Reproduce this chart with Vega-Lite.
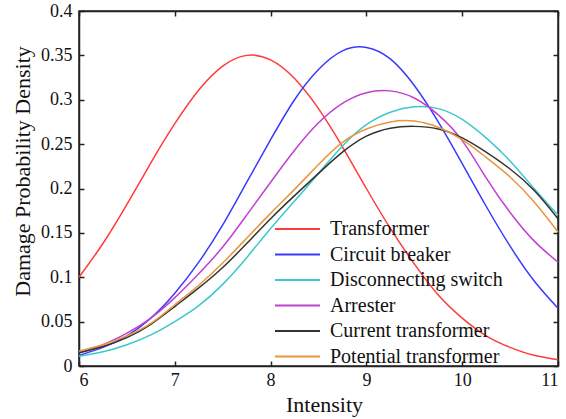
{
  "$schema": "https://vega.github.io/schema/vega-lite/v6.json",
  "width": 479,
  "height": 355,
  "autosize": {"type": "none"},
  "padding": {"left": 79, "top": 11, "right": 8, "bottom": 53},
  "config": {
    "font": "Liberation Serif",
    "view": {"stroke": "#222", "strokeWidth": 1.5},
    "axis": {
      "domainColor": "#222", "domainWidth": 1.5,
      "tickColor": "#222", "tickWidth": 1.5, "tickSize": -5,
      "labelColor": "#111", "labelFont": "Liberation Serif", "labelFontSize": 18,
      "titleFont": "Liberation Serif", "titleFontSize": 22, "titleFontWeight": "normal", "titleColor": "#111",
      "grid": false
    }
  },
  "data": {
    "values": [
      {"x": 6, "c": "Transformer", "d": 0.100}, {"x": 6.25, "c": "Transformer", "d": 0.138}, {"x": 6.5, "c": "Transformer", "d": 0.182}, {"x": 6.75, "c": "Transformer", "d": 0.229}, {"x": 7, "c": "Transformer", "d": 0.273}, {"x": 7.25, "c": "Transformer", "d": 0.311}, {"x": 7.5, "c": "Transformer", "d": 0.338}, {"x": 7.75, "c": "Transformer", "d": 0.350}, {"x": 8, "c": "Transformer", "d": 0.345}, {"x": 8.25, "c": "Transformer", "d": 0.324}, {"x": 8.5, "c": "Transformer", "d": 0.290}, {"x": 8.75, "c": "Transformer", "d": 0.247}, {"x": 9, "c": "Transformer", "d": 0.200}, {"x": 9.25, "c": "Transformer", "d": 0.155}, {"x": 9.5, "c": "Transformer", "d": 0.115}, {"x": 9.75, "c": "Transformer", "d": 0.080}, {"x": 10, "c": "Transformer", "d": 0.054}, {"x": 10.25, "c": "Transformer", "d": 0.034}, {"x": 10.5, "c": "Transformer", "d": 0.021}, {"x": 10.75, "c": "Transformer", "d": 0.012}, {"x": 11, "c": "Transformer", "d": 0.007},
      {"x": 6, "c": "Circuit breaker", "d": 0.012}, {"x": 6.25, "c": "Circuit breaker", "d": 0.021}, {"x": 6.5, "c": "Circuit breaker", "d": 0.034}, {"x": 6.75, "c": "Circuit breaker", "d": 0.054}, {"x": 7, "c": "Circuit breaker", "d": 0.082}, {"x": 7.25, "c": "Circuit breaker", "d": 0.117}, {"x": 7.5, "c": "Circuit breaker", "d": 0.159}, {"x": 7.75, "c": "Circuit breaker", "d": 0.207}, {"x": 8, "c": "Circuit breaker", "d": 0.255}, {"x": 8.25, "c": "Circuit breaker", "d": 0.300}, {"x": 8.5, "c": "Circuit breaker", "d": 0.334}, {"x": 8.75, "c": "Circuit breaker", "d": 0.355}, {"x": 9, "c": "Circuit breaker", "d": 0.359}, {"x": 9.25, "c": "Circuit breaker", "d": 0.346}, {"x": 9.5, "c": "Circuit breaker", "d": 0.316}, {"x": 9.75, "c": "Circuit breaker", "d": 0.275}, {"x": 10, "c": "Circuit breaker", "d": 0.228}, {"x": 10.25, "c": "Circuit breaker", "d": 0.180}, {"x": 10.5, "c": "Circuit breaker", "d": 0.135}, {"x": 10.75, "c": "Circuit breaker", "d": 0.096}, {"x": 11, "c": "Circuit breaker", "d": 0.065},
      {"x": 6, "c": "Disconnecting switch", "d": 0.011}, {"x": 6.25, "c": "Disconnecting switch", "d": 0.016}, {"x": 6.5, "c": "Disconnecting switch", "d": 0.024}, {"x": 6.75, "c": "Disconnecting switch", "d": 0.035}, {"x": 7, "c": "Disconnecting switch", "d": 0.050}, {"x": 7.25, "c": "Disconnecting switch", "d": 0.068}, {"x": 7.5, "c": "Disconnecting switch", "d": 0.092}, {"x": 7.75, "c": "Disconnecting switch", "d": 0.122}, {"x": 8, "c": "Disconnecting switch", "d": 0.155}, {"x": 8.25, "c": "Disconnecting switch", "d": 0.186}, {"x": 8.5, "c": "Disconnecting switch", "d": 0.217}, {"x": 8.75, "c": "Disconnecting switch", "d": 0.248}, {"x": 9, "c": "Disconnecting switch", "d": 0.272}, {"x": 9.25, "c": "Disconnecting switch", "d": 0.286}, {"x": 9.5, "c": "Disconnecting switch", "d": 0.292}, {"x": 9.75, "c": "Disconnecting switch", "d": 0.290}, {"x": 10, "c": "Disconnecting switch", "d": 0.278}, {"x": 10.25, "c": "Disconnecting switch", "d": 0.257}, {"x": 10.5, "c": "Disconnecting switch", "d": 0.231}, {"x": 10.75, "c": "Disconnecting switch", "d": 0.200}, {"x": 11, "c": "Disconnecting switch", "d": 0.170},
      {"x": 6, "c": "Arrester", "d": 0.015}, {"x": 6.25, "c": "Arrester", "d": 0.024}, {"x": 6.5, "c": "Arrester", "d": 0.037}, {"x": 6.75, "c": "Arrester", "d": 0.054}, {"x": 7, "c": "Arrester", "d": 0.077}, {"x": 7.25, "c": "Arrester", "d": 0.104}, {"x": 7.5, "c": "Arrester", "d": 0.134}, {"x": 7.75, "c": "Arrester", "d": 0.170}, {"x": 8, "c": "Arrester", "d": 0.207}, {"x": 8.25, "c": "Arrester", "d": 0.243}, {"x": 8.5, "c": "Arrester", "d": 0.274}, {"x": 8.75, "c": "Arrester", "d": 0.296}, {"x": 9, "c": "Arrester", "d": 0.308}, {"x": 9.25, "c": "Arrester", "d": 0.310}, {"x": 9.5, "c": "Arrester", "d": 0.302}, {"x": 9.75, "c": "Arrester", "d": 0.283}, {"x": 10, "c": "Arrester", "d": 0.254}, {"x": 10.25, "c": "Arrester", "d": 0.212}, {"x": 10.5, "c": "Arrester", "d": 0.173}, {"x": 10.75, "c": "Arrester", "d": 0.141}, {"x": 11, "c": "Arrester", "d": 0.117},
      {"x": 6, "c": "Current transformer", "d": 0.015}, {"x": 6.25, "c": "Current transformer", "d": 0.022}, {"x": 6.5, "c": "Current transformer", "d": 0.032}, {"x": 6.75, "c": "Current transformer", "d": 0.047}, {"x": 7, "c": "Current transformer", "d": 0.067}, {"x": 7.25, "c": "Current transformer", "d": 0.088}, {"x": 7.5, "c": "Current transformer", "d": 0.111}, {"x": 7.75, "c": "Current transformer", "d": 0.138}, {"x": 8, "c": "Current transformer", "d": 0.166}, {"x": 8.25, "c": "Current transformer", "d": 0.192}, {"x": 8.5, "c": "Current transformer", "d": 0.217}, {"x": 8.75, "c": "Current transformer", "d": 0.241}, {"x": 9, "c": "Current transformer", "d": 0.259}, {"x": 9.25, "c": "Current transformer", "d": 0.268}, {"x": 9.5, "c": "Current transformer", "d": 0.270}, {"x": 9.75, "c": "Current transformer", "d": 0.267}, {"x": 10, "c": "Current transformer", "d": 0.257}, {"x": 10.25, "c": "Current transformer", "d": 0.241}, {"x": 10.5, "c": "Current transformer", "d": 0.222}, {"x": 10.75, "c": "Current transformer", "d": 0.198}, {"x": 11, "c": "Current transformer", "d": 0.166},
      {"x": 6, "c": "Potential transformer", "d": 0.017}, {"x": 6.25, "c": "Potential transformer", "d": 0.024}, {"x": 6.5, "c": "Potential transformer", "d": 0.034}, {"x": 6.75, "c": "Potential transformer", "d": 0.048}, {"x": 7, "c": "Potential transformer", "d": 0.069}, {"x": 7.25, "c": "Potential transformer", "d": 0.091}, {"x": 7.5, "c": "Potential transformer", "d": 0.116}, {"x": 7.75, "c": "Potential transformer", "d": 0.144}, {"x": 8, "c": "Potential transformer", "d": 0.172}, {"x": 8.25, "c": "Potential transformer", "d": 0.199}, {"x": 8.5, "c": "Potential transformer", "d": 0.227}, {"x": 8.75, "c": "Potential transformer", "d": 0.252}, {"x": 9, "c": "Potential transformer", "d": 0.267}, {"x": 9.25, "c": "Potential transformer", "d": 0.275}, {"x": 9.5, "c": "Potential transformer", "d": 0.276}, {"x": 9.75, "c": "Potential transformer", "d": 0.269}, {"x": 10, "c": "Potential transformer", "d": 0.255}, {"x": 10.25, "c": "Potential transformer", "d": 0.235}, {"x": 10.5, "c": "Potential transformer", "d": 0.213}, {"x": 10.75, "c": "Potential transformer", "d": 0.185}, {"x": 11, "c": "Potential transformer", "d": 0.151}
    ]
  },
  "layer": [
    {
      "mark": {"type": "line", "interpolate": "natural", "strokeWidth": 1.5},
      "encoding": {
        "x": {
          "field": "x", "type": "quantitative",
          "scale": {"domain": [6, 11], "nice": false},
          "axis": {"values": [6, 7, 8, 9, 10, 11], "format": "d", "title": "Intensity", "labelPadding": 10, "titleX": 245, "titleY": 38, "titleBaseline": "middle", "titleAlign": "center", "titleAngle": 0}
        },
        "y": {
          "field": "d", "type": "quantitative",
          "scale": {"domain": [0, 0.4], "nice": false},
          "axis": {"values": [0, 0.05, 0.1, 0.15, 0.2, 0.25, 0.3, 0.35, 0.4], "format": "~g", "title": "Damage Probability Density", "labelPadding": 12, "titleX": -57, "titleY": 160, "titleAngle": -90, "titleAlign": "center", "titleBaseline": "middle"}
        },
        "color": {
          "field": "c", "type": "nominal",
          "scale": {
            "domain": ["Transformer", "Circuit breaker", "Disconnecting switch", "Arrester", "Current transformer", "Potential transformer"],
            "range": ["#ff3b3b", "#3a3aff", "#3cc8c8", "#c040d0", "#333333", "#e8963c"]
          },
          "legend": {
            "orient": "none", "legendX": 208.5, "legendY": 208, "title": null,
            "symbolType": "M-4.5,0H4.5", "symbolSize": 100, "symbolStrokeWidth": 2,
            "labelFont": "Liberation Serif", "labelFontSize": 20, "labelColor": "#111", "labelOffset": 22.5, "labelLimit": 400,
            "rowPadding": 5.5, "padding": 0
          }
        }
      }
    },
    {
      "mark": {"type": "line", "opacity": 0},
      "encoding": {
        "x": {"field": "x", "type": "quantitative", "axis": {"orient": "top", "values": [6, 7, 8, 9, 10, 11], "labels": false, "title": null}},
        "y": {"field": "d", "type": "quantitative", "axis": {"orient": "right", "values": [0, 0.05, 0.1, 0.15, 0.2, 0.25, 0.3, 0.35, 0.4], "labels": false, "title": null}},
        "detail": {"field": "c"}
      }
    }
  ],
  "resolve": {"axis": {"x": "independent", "y": "independent"}}
}
